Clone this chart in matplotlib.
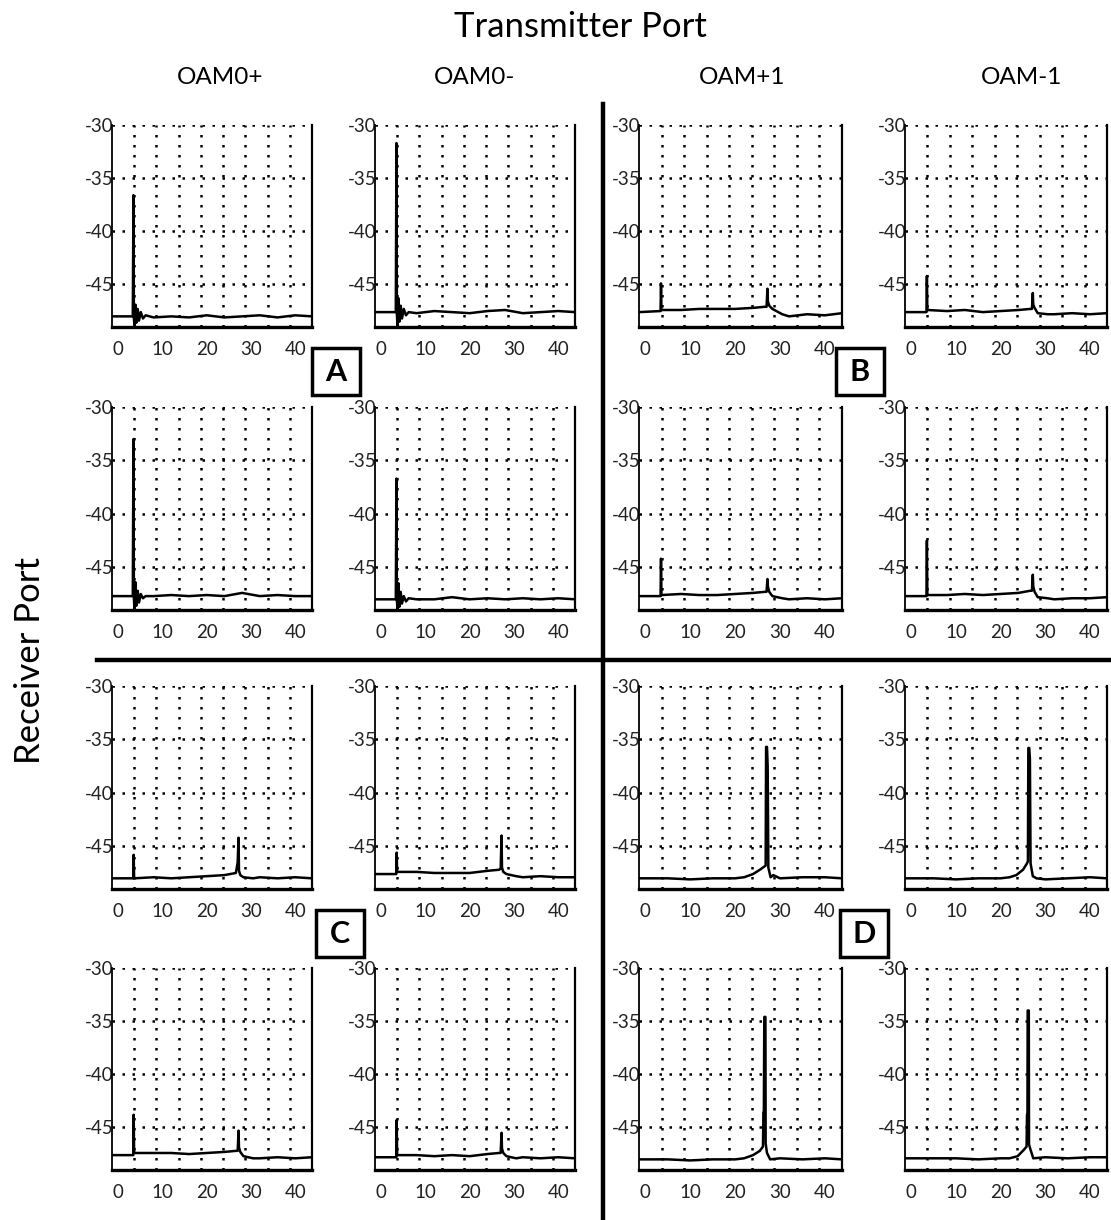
import matplotlib
matplotlib.use("Agg")
import matplotlib.pyplot as plt
from matplotlib.patches import Rectangle
from matplotlib.lines import Line2D

plt.rcParams['font.family'] = ['Lato', 'DejaVu Sans']

tx_labels = ["OAM0+", "OAM0-", "OAM+1", "OAM-1"]
quad_labels = ["A", "B", "C", "D"]
x_ticks = [0, 10, 20, 30, 40]
y_ticks = [-30, -35, -40, -45]

# traces (x index, dB)
# quadrant A: OAM0 -> OAM0
xa = [-1.4, 3.3, 3.45, 3.55, 3.7, 3.9, 4.1, 4.4, 4.7, 5.1, 5.6, 6.2, 8, 12, 16, 20, 24, 28, 32, 36, 40, 43.8]
y_r1c1 = [-48.0, -48.0, -36.6, -48.2, -49.0, -46.9, -48.6, -47.3, -48.4, -47.6, -48.2, -47.9,
          -48.1, -48.0, -48.1, -47.9, -48.1, -48.0, -47.9, -48.1, -47.9, -48.0]
y_r1c2 = [-47.6, -47.6, -31.7, -47.8, -49.0, -46.3, -48.5, -47.0, -48.2, -47.3, -47.9, -47.6,
          -47.7, -47.5, -47.6, -47.7, -47.5, -47.4, -47.7, -47.6, -47.5, -47.6]
y_r2c1 = [-47.7, -47.7, -33.0, -47.9, -49.0, -46.4, -48.6, -47.2, -48.3, -47.5, -47.9, -47.7,
          -47.7, -47.6, -47.7, -47.6, -47.7, -47.4, -47.7, -47.6, -47.7, -47.7]
y_r2c2 = [-48.0, -48.0, -36.7, -48.1, -49.0, -46.5, -48.7, -47.3, -48.4, -47.7, -48.2, -47.9,
          -48.0, -48.0, -47.8, -48.0, -47.9, -48.0, -47.9, -48.0, -47.9, -48.0]

# quadrants B and C: crosstalk, two small spikes
xb = [-1.4, 3.4, 3.5, 3.6, 8, 12, 16, 20, 24, 26.6, 27.0, 27.2, 27.3, 27.6, 28.3, 30.5, 32, 36, 40, 43.8]
y_r1c3 = [-47.6, -47.5, -44.9, -47.4, -47.4, -47.3, -47.3, -47.3, -47.2, -47.1, -47.1, -45.4,
          -46.6, -47.0, -47.3, -47.8, -48.0, -47.8, -47.9, -47.7]
y_r1c4 = [-47.6, -47.6, -44.2, -47.4, -47.5, -47.4, -47.6, -47.5, -47.4, -47.3, -47.3, -45.8,
          -46.9, -47.2, -47.7, -47.8, -47.8, -47.7, -47.8, -47.7]
y_r2c3 = [-47.7, -47.7, -44.2, -47.6, -47.5, -47.6, -47.6, -47.5, -47.4, -47.3, -47.3, -46.1,
          -46.8, -47.3, -47.7, -47.9, -48.0, -47.9, -48.0, -47.9]
y_r2c4 = [-47.7, -47.7, -42.5, -47.6, -47.6, -47.5, -47.6, -47.5, -47.4, -47.2, -47.2, -45.7,
          -46.8, -47.3, -47.8, -47.9, -48.0, -47.9, -47.9, -47.8]
y_r3c1 = [-48.0, -48.0, -45.8, -48.0, -47.9, -48.0, -47.9, -47.8, -47.7, -47.5, -46.5, -44.2,
          -47.3, -47.7, -47.9, -48.0, -47.9, -48.0, -47.9, -48.0]
y_r3c2 = [-47.6, -47.6, -45.6, -47.4, -47.4, -47.5, -47.5, -47.5, -47.3, -47.2, -47.1, -44.0,
          -47.0, -47.4, -47.6, -47.8, -47.9, -47.8, -47.9, -47.9]
y_r4c1 = [-47.6, -47.6, -43.8, -47.4, -47.4, -47.4, -47.5, -47.4, -47.3, -47.2, -47.2, -45.3,
          -46.9, -47.3, -47.7, -47.9, -47.9, -47.8, -47.9, -47.8]
y_r4c2 = [-47.8, -47.8, -44.3, -47.6, -47.6, -47.7, -47.6, -47.7, -47.5, -47.4, -47.4, -45.5,
          -47.0, -47.4, -47.7, -47.9, -47.8, -47.9, -47.8, -47.9]

# quadrant D: OAM1 -> OAM1, strong peak near 26
x_r3c3 = [-1.4, 5, 10, 15, 20, 22, 24, 25.5, 26.5, 26.8, 26.9, 27.1, 27.25, 27.4, 27.9, 28.5, 30, 35, 40, 43.8]
y_r3c3 = [-48.0, -48.0, -48.1, -48.0, -48.0, -47.9, -47.6, -47.2, -46.9, -46.8, -35.7, -35.7,
          -37.5, -47.0, -47.9, -47.7, -48.0, -47.9, -47.9, -48.0]
x_r3c4 = [-1.4, 5, 10, 15, 20, 22, 23.5, 25.0, 25.9, 26.1, 26.2, 26.4, 26.55, 26.7, 27.2, 28, 30, 35, 40, 43.8]
y_r3c4 = [-48.0, -48.0, -48.1, -48.0, -48.0, -47.9, -47.7, -47.2, -46.6, -46.4, -35.8, -35.8,
          -36.8, -46.6, -47.8, -48.0, -48.1, -48.0, -47.9, -48.0]
x_r4c3 = [-1.4, 5, 10, 15, 20, 22, 24, 25.5, 26.2, 26.3, 26.4, 26.5, 26.75, 26.8, 27.1, 27.8, 30, 35, 40, 43.8]
y_r4c3 = [-48.0, -48.0, -48.1, -48.0, -48.0, -47.9, -47.6, -47.2, -46.8, -43.6, -43.6, -34.6,
          -34.6, -46.5, -47.4, -48.0, -47.9, -48.0, -47.9, -48.0]
x_r4c4 = [-1.4, 5, 10, 15, 20, 22, 23.8, 25.2, 25.8, 25.9, 26.0, 26.05, 26.3, 26.35, 26.7, 27.3, 30, 35, 40, 43.8]
y_r4c4 = [-47.9, -47.9, -47.9, -48.0, -47.9, -47.9, -47.7, -47.1, -46.8, -43.8, -43.8, -34.0,
          -34.0, -46.6, -47.1, -47.9, -47.8, -47.9, -47.8, -47.8]

traces = [
    [(xa, y_r1c1), (xa, y_r1c2), (xb, y_r1c3), (xb, y_r1c4)],
    [(xa, y_r2c1), (xa, y_r2c2), (xb, y_r2c3), (xb, y_r2c4)],
    [(xb, y_r3c1), (xb, y_r3c2), (x_r3c3, y_r3c3), (x_r3c4, y_r3c4)],
    [(xb, y_r4c1), (xb, y_r4c2), (x_r4c3, y_r4c3), (x_r4c4, y_r4c4)],
]

W, H = 1111, 1220
fig = plt.figure(figsize=(W / 100, H / 100), dpi=100)

col_px = [(112, 312), (375, 575), (639, 842), (905, 1107)]
row_px = [(125, 327), (407, 610), (686, 889), (968, 1170)]
xlim = (-1.4, 43.8)
ylim = (-49.0, -30.0)

for r, (top, bot) in enumerate(row_px):
    for c, (left, right) in enumerate(col_px):
        ax = fig.add_axes([left / W, 1 - bot / H, (right - left) / W, (bot - top) / H])
        xs, ys = traces[r][c]
        ax.plot(xs, ys, color='black', lw=1.8, zorder=3)
        ax.set_xlim(*xlim)
        ax.set_ylim(*ylim)
        ax.set_xticks(x_ticks)
        ax.set_yticks(y_ticks)
        ax.set_yticklabels([str(v) for v in y_ticks])
        # oscilloscope style grid: 9 equal columns
        step = (xlim[1] - xlim[0]) / 9
        ax.set_xticks([xlim[0] + k * step for k in range(1, 9)], minor=True)
        ax.grid(which='minor', axis='x', color='black', linestyle=(0, (1, 3)), lw=1.8)
        ax.grid(which='major', axis='y', color='black', linestyle=(0, (1, 3)), lw=1.8)
        ax.tick_params(which='both', length=0)
        ax.tick_params(axis='y', pad=-1, labelsize=13.5, colors='#222222')
        ax.tick_params(axis='x', pad=10, labelsize=13.5, colors='#222222')
        ax.spines['top'].set_visible(False)
        ax.spines['left'].set_linewidth(1.3)
        ax.spines['right'].set_linewidth(1.6)
        ax.spines['bottom'].set_linewidth(2.4)

fig.text(580 / W, 1 - 27 / H, "Transmitter Port", ha='center', va='center', fontsize=25)
for c, lab in enumerate(tx_labels):
    cx = [220, 475, 742, 1022][c]
    fig.text(cx / W, 1 - 77 / H, lab, ha='center', va='center', fontsize=17.5)
fig.text(30 / W, 1 - 660 / H, "Receiver Port", ha='center', va='center', fontsize=25, rotation=90)

# quadrant dividers
fig.add_artist(Line2D([603 / W, 603 / W], [1 - 104 / H, 0], color='black', lw=3.2))
fig.add_artist(Line2D([97 / W, 1110 / W], [1 - 660 / H, 1 - 660 / H], color='black', lw=3.2))

# quadrant letter boxes
box_px = [(312, 348), (836, 348), (316, 910), (840, 910)]
for lab, (bx, by) in zip(quad_labels, box_px):
    fig.add_artist(Rectangle((bx / W, 1 - (by + 47) / H), 48 / W, 47 / H, transform=fig.transFigure,
                             facecolor='white', edgecolor='black', lw=2.5))
    fig.text((bx + 24) / W, 1 - (by + 24) / H, lab, ha='center', va='center',
             fontsize=22, fontweight='bold')

fig.savefig("out.png", dpi=100, facecolor='white')
